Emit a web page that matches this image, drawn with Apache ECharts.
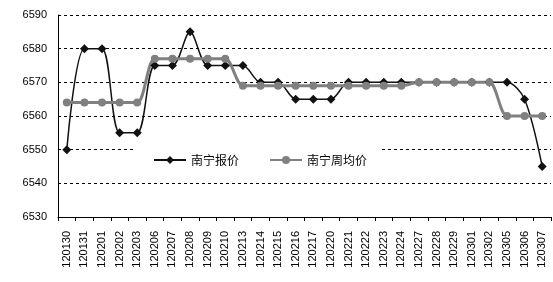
<!DOCTYPE html>
<html><head><meta charset="utf-8">
<script src="https://cdn.jsdelivr.net/npm/echarts@6/dist/echarts.min.js"></script>
<style>html,body{margin:0;padding:0;background:#fff}#c{width:553px;height:282px}</style>
</head><body><div id="c"></div>
<script>
const categories = ['120130','120131','120201','120202','120203','120206','120207','120208','120209','120210','120213','120214','120215','120216','120217','120220','120221','120222','120223','120224','120227','120228','120229','120301','120302','120305','120306','120307'];
const quote = [6550,6580,6580,6555,6555,6575,6575,6585,6575,6575,6575,6570,6570,6565,6565,6565,6570,6570,6570,6570,6570,6570,6570,6570,6570,6570,6565,6545];
const weeklyAvg = [6564,6564,6564,6564,6564,6577,6577,6577,6577,6577,6569,6569,6569,6569,6569,6569,6569,6569,6569,6569,6570,6570,6570,6570,6570,6560,6560,6560];
const yTicks = {min:6530,max:6590,interval:10};

const chart = echarts.init(document.getElementById('c'));
const font = 'SimSun, "Noto Sans CJK SC", "Liberation Sans", sans-serif';
chart.setOption({
  animation:false,
  grid:{left:58,right:2,top:15,bottom:65},
  legend:{
    left:133, top:148, itemWidth:32, itemHeight:10, itemGap:30,
    backgroundColor:'#fff', padding:[6,12,6,20],
    textStyle:{fontSize:12,color:'#000',fontFamily:font},
    data:['南宁报价','南宁周均价']
  },
  xAxis:{
    type:'category', data:categories, boundaryGap:true,
    axisLine:{lineStyle:{color:'#000',width:1}},
    axisTick:{show:true,length:4,lineStyle:{color:'#000'}},
    axisLabel:{rotate:90,fontSize:11,color:'#000',margin:14,fontFamily:'"Liberation Sans",Arial,sans-serif',interval:0}
  },
  yAxis:{
    type:'value', min:yTicks.min, max:yTicks.max, interval:yTicks.interval,
    axisLine:{show:true,lineStyle:{color:'#000',width:1}},
    axisTick:{show:false},
    axisLabel:{fontSize:11,color:'#000',margin:11,fontFamily:'"Liberation Sans",Arial,sans-serif',formatter:v=>String(v)},
    splitLine:{lineStyle:{color:'#000',type:[3,3],width:1}}
  },
  series:[
    {name:'南宁报价',type:'line',data:quote,smooth:0.3,symbol:'diamond',symbolSize:9,
     itemStyle:{color:'#111'},lineStyle:{color:'#111',width:1.5}},
    {name:'南宁周均价',type:'line',data:weeklyAvg,smooth:0.3,symbol:'circle',symbolSize:8,
     itemStyle:{color:'#808080'},lineStyle:{color:'#808080',width:3}}
  ]
});
</script></body></html>
